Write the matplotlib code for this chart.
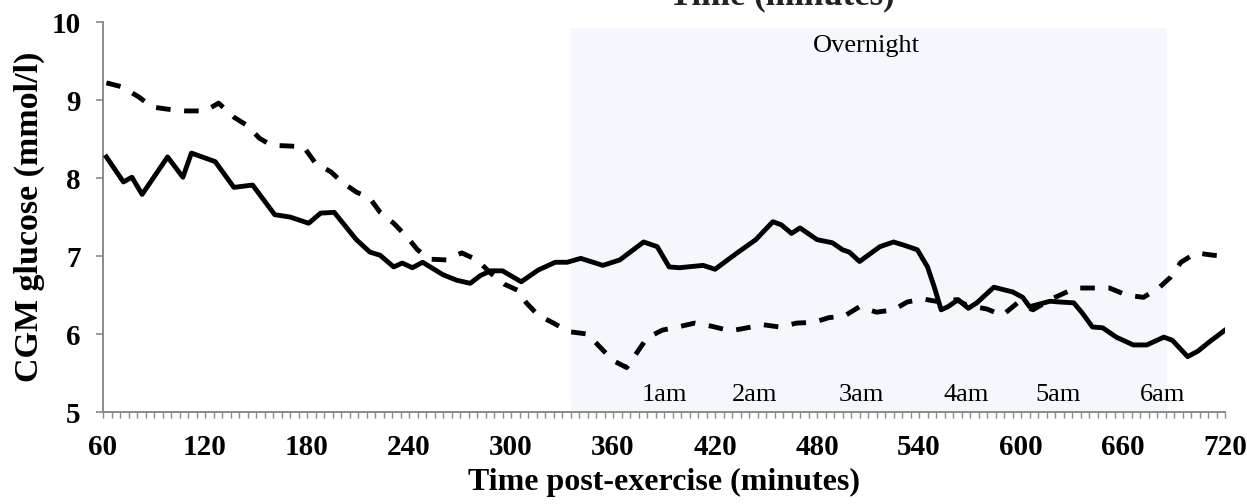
import matplotlib
matplotlib.use("Agg")
import matplotlib.pyplot as plt
from matplotlib.ticker import MultipleLocator

# CGM glucose after exercise, solid and dashed conditions (minutes, mmol/l)
solid_t = [62, 72, 77, 83, 98, 107, 112, 126, 137, 148, 161, 170, 181, 188, 196,
           209, 217, 223, 231, 236, 242, 248, 260, 268, 276, 282, 288, 295, 306,
           316, 326, 333, 341, 354, 364, 378, 386, 393, 399, 413, 420, 433, 444,
           454, 459, 465, 470, 480, 489, 495, 499, 505, 517, 525, 531, 539, 545,
           549, 553, 557, 563, 569, 574, 584, 595, 601, 605, 617, 623, 631, 636,
           642, 648, 656, 666, 674, 684, 689, 698, 704, 712, 720]
solid_v = [8.27, 7.95, 8.01, 7.79, 8.27, 8.01, 8.32, 8.21, 7.88, 7.91, 7.53, 7.50,
           7.42, 7.55, 7.56, 7.21, 7.05, 7.01, 6.86, 6.91, 6.85, 6.92, 6.76, 6.69,
           6.65, 6.75, 6.81, 6.81, 6.67, 6.82, 6.92, 6.92, 6.97, 6.88, 6.95, 7.18,
           7.12, 6.86, 6.85, 6.88, 6.83, 7.04, 7.21, 7.44, 7.40, 7.29, 7.36, 7.21,
           7.17, 7.08, 7.05, 6.93, 7.12, 7.18, 7.14, 7.08, 6.86, 6.60, 6.31, 6.35,
           6.44, 6.33, 6.40, 6.60, 6.54, 6.47, 6.35, 6.42, 6.41, 6.40, 6.27, 6.09,
           6.08, 5.96, 5.86, 5.86, 5.96, 5.92, 5.71, 5.78, 5.92, 6.05]

dashed_t = [62, 71, 81, 89, 99, 109, 120, 128, 137, 145, 152, 159, 170, 178, 185,
            194, 201, 209, 217, 223, 231, 239, 245, 252, 262, 271, 280, 288, 296,
            304, 309, 316, 325, 334, 345, 352, 360, 368, 374, 380, 389, 398, 408,
            418, 429, 439, 448, 458, 468, 478, 487, 496, 505, 515, 525, 533, 542,
            550, 562, 568, 580, 589, 598, 607, 618, 632, 642, 652, 662, 672, 681,
            688, 694, 703, 713, 720]
dashed_v = [9.22, 9.17, 9.04, 8.91, 8.88, 8.86, 8.86, 8.96, 8.78, 8.67, 8.51, 8.42,
            8.41, 8.40, 8.19, 8.08, 7.94, 7.82, 7.74, 7.56, 7.42, 7.24, 7.08, 6.96,
            6.95, 7.04, 6.95, 6.78, 6.64, 6.56, 6.40, 6.24, 6.14, 6.03, 6.00, 5.84,
            5.66, 5.57, 5.76, 5.95, 6.05, 6.09, 6.14, 6.10, 6.04, 6.08, 6.12, 6.09,
            6.14, 6.15, 6.21, 6.23, 6.35, 6.28, 6.31, 6.41, 6.45, 6.42, 6.44, 6.37,
            6.32, 6.24, 6.40, 6.31, 6.45, 6.59, 6.59, 6.59, 6.50, 6.47, 6.59, 6.73,
            6.92, 7.04, 7.01, 7.00]

# clock time labels along the bottom of the overnight period
hour_labels = ["1am", "2am", "3am", "4am", "5am", "6am"]
hour_t = [390, 443, 506, 568, 622, 683]

overnight_start = 335
overnight_end = 686

serif = ["Liberation Serif", "DejaVu Serif"]
plt.rcParams["font.family"] = serif

fig = plt.figure(figsize=(12.47, 5.04), dpi=100)
ax = fig.add_axes([0.0826, 0.1825, 0.8998, 0.7738])

# shaded overnight block
ax.axvspan(overnight_start, overnight_end, ymin=0, ymax=0.984,
           color="#f4f8fc", lw=0, zorder=0)

ax.plot(solid_t, solid_v, color="black", lw=3.5, solid_joinstyle="round",
        zorder=3)
ax.plot(dashed_t, dashed_v, color="black", lw=3.5, linestyle=(0, (3.0, 2.8)),
        zorder=3)

ax.text(509, 9.62, "Overnight", fontsize=19, ha="center", va="baseline")
for lab, t in zip(hour_labels, hour_t):
    ax.text(t, 5.14, lab, fontsize=19, ha="center", va="baseline")

ax.set_xlim(60, 720)
ax.set_ylim(5, 10)
ax.xaxis.set_major_locator(MultipleLocator(60))
ax.xaxis.set_minor_locator(MultipleLocator(5))
ax.yaxis.set_major_locator(MultipleLocator(1))

for side in ["top", "right"]:
    ax.spines[side].set_visible(False)
for side in ["left", "bottom"]:
    ax.spines[side].set_color("#8a8a8a")
    ax.spines[side].set_linewidth(1.4)

ax.tick_params(axis="x", which="both", direction="out", length=4, width=1,
               color="#8a8a8a")
ax.tick_params(axis="x", which="major", pad=12)
ax.tick_params(axis="y", which="major", direction="out", length=5, width=1.2,
               color="#8a8a8a", pad=11)
for lab in ax.get_xticklabels() + ax.get_yticklabels():
    lab.set_fontsize(21)
    lab.set_fontweight("bold")

ax.set_xlabel("Time post-exercise (minutes)", fontsize=23, fontweight="bold",
              labelpad=5)
ax.set_ylabel("CGM glucose (mmol/l)", fontsize=24.5, fontweight="bold",
              labelpad=5)

# upper axis title, mostly above the top edge of the figure
fig.text(0.627, 0.992, "Time (minutes)", fontsize=25, fontweight="bold",
         ha="center", va="baseline", color="#222222")

fig.savefig("out.png", dpi=100)
